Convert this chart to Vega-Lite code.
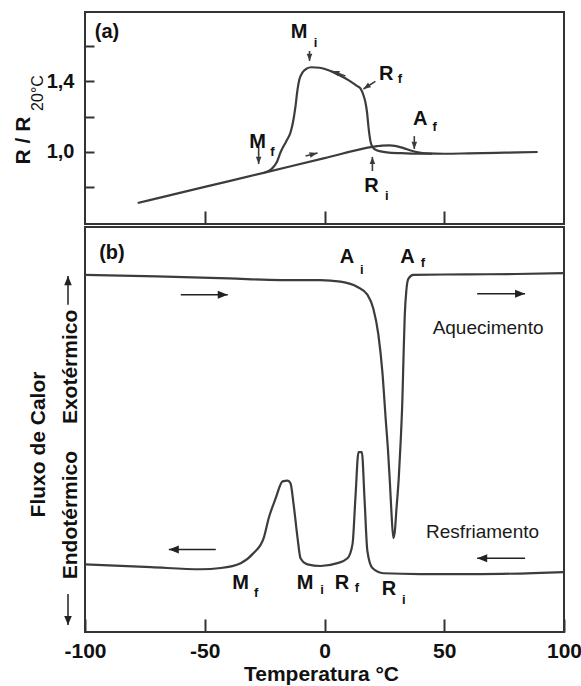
{
  "$schema": "https://vega.github.io/schema/vega-lite/v6.json",
  "padding": {"left": 11, "top": 11, "right": 0, "bottom": 0},
  "spacing": 0,
  "resolve": {"scale": {"x": "independent", "y": "independent", "shape": "independent"}},
  "config": {
    "font": "Liberation Sans",
    "view": {"stroke": "#333333", "strokeWidth": 2},
    "axis": {
      "grid": false,
      "domain": false,
      "tickColor": "#333333",
      "tickWidth": 2,
      "labelFont": "Liberation Sans",
      "labelFontWeight": "bold",
      "labelColor": "#111111",
      "titleFont": "Liberation Sans",
      "titleFontWeight": "bold",
      "titleColor": "#111111"
    }
  },
  "datasets": {
    "resistencia": [
      {"ciclo": "aquecimento", "T": -78, "v": 0.711},
      {"ciclo": "aquecimento", "T": -50, "v": 0.802},
      {"ciclo": "aquecimento", "T": -25, "v": 0.883},
      {"ciclo": "aquecimento", "T": 0, "v": 0.965},
      {"ciclo": "aquecimento", "T": 20, "v": 1.029},
      {"ciclo": "aquecimento", "T": 22, "v": 1.033},
      {"ciclo": "aquecimento", "T": 24, "v": 1.036},
      {"ciclo": "aquecimento", "T": 27, "v": 1.037},
      {"ciclo": "aquecimento", "T": 30, "v": 1.033},
      {"ciclo": "aquecimento", "T": 33, "v": 1.022},
      {"ciclo": "aquecimento", "T": 36, "v": 1.008},
      {"ciclo": "aquecimento", "T": 39, "v": 0.998},
      {"ciclo": "aquecimento", "T": 43, "v": 0.992},
      {"ciclo": "aquecimento", "T": 50, "v": 0.99},
      {"ciclo": "aquecimento", "T": 60, "v": 0.992},
      {"ciclo": "aquecimento", "T": 75, "v": 0.996},
      {"ciclo": "aquecimento", "T": 89, "v": 1.0},
      {"ciclo": "resfriamento", "T": -25, "v": 0.884},
      {"ciclo": "resfriamento", "T": -22, "v": 0.905},
      {"ciclo": "resfriamento", "T": -20, "v": 0.94},
      {"ciclo": "resfriamento", "T": -18.3, "v": 1.0},
      {"ciclo": "resfriamento", "T": -16, "v": 1.06},
      {"ciclo": "resfriamento", "T": -14.2, "v": 1.11},
      {"ciclo": "resfriamento", "T": -13, "v": 1.18},
      {"ciclo": "resfriamento", "T": -12.1, "v": 1.26},
      {"ciclo": "resfriamento", "T": -11.3, "v": 1.35},
      {"ciclo": "resfriamento", "T": -10.5, "v": 1.41},
      {"ciclo": "resfriamento", "T": -9.2, "v": 1.45},
      {"ciclo": "resfriamento", "T": -7.5, "v": 1.472},
      {"ciclo": "resfriamento", "T": -5.5, "v": 1.48},
      {"ciclo": "resfriamento", "T": -2, "v": 1.477},
      {"ciclo": "resfriamento", "T": 2, "v": 1.462},
      {"ciclo": "resfriamento", "T": 5.4, "v": 1.44},
      {"ciclo": "resfriamento", "T": 10.8, "v": 1.4},
      {"ciclo": "resfriamento", "T": 13.5, "v": 1.375},
      {"ciclo": "resfriamento", "T": 15, "v": 1.36},
      {"ciclo": "resfriamento", "T": 16.3, "v": 1.32},
      {"ciclo": "resfriamento", "T": 17.1, "v": 1.28},
      {"ciclo": "resfriamento", "T": 17.8, "v": 1.22},
      {"ciclo": "resfriamento", "T": 18.3, "v": 1.15},
      {"ciclo": "resfriamento", "T": 19.2, "v": 1.06},
      {"ciclo": "resfriamento", "T": 20, "v": 1.029},
      {"ciclo": "resfriamento", "T": 22, "v": 1.008},
      {"ciclo": "resfriamento", "T": 26, "v": 0.998},
      {"ciclo": "resfriamento", "T": 32, "v": 0.993},
      {"ciclo": "resfriamento", "T": 40, "v": 0.99},
      {"ciclo": "resfriamento", "T": 45, "v": 0.99}
    ],
    "setasA": [
      {"T": -27.5, "v": 1.028, "T2": -27.5, "v2": 0.932, "dir": "baixo"},
      {"T": -6.25, "v": 1.572, "T2": -6.25, "v2": 1.516, "dir": "baixo"},
      {"T": 37.5, "v": 1.09, "T2": 37.5, "v2": 1.017, "dir": "baixo"},
      {"T": 20, "v": 0.892, "T2": 20, "v2": 0.972, "dir": "cima"},
      {"T": 21.25, "v": 1.4, "T2": 16.25, "v2": 1.357, "dir": "sudoeste"},
      {"T": 8.75, "v": 1.43, "T2": 2.9, "v2": 1.459, "dir": "oeste"},
      {"T": -7.9, "v": 0.977, "T2": -2.9, "v2": 0.994, "dir": "leste"}
    ],
    "rotulosA": [
      {"t": "(a)", "k": "main", "T": -90.8, "v": 1.68},
      {"t": "M", "k": "main", "T": -10.6, "v": 1.677},
      {"t": "i", "k": "sub", "T": -3.75, "v": 1.618},
      {"t": "R", "k": "main", "T": 25.8, "v": 1.442},
      {"t": "f", "k": "sub", "T": 31.5, "v": 1.411},
      {"t": "A", "k": "main", "T": 40.0, "v": 1.187},
      {"t": "f", "k": "sub", "T": 46.0, "v": 1.144},
      {"t": "R", "k": "main", "T": 19.6, "v": 0.807},
      {"t": "i", "k": "sub", "T": 26.0, "v": 0.748},
      {"t": "M", "k": "main", "T": -27.9, "v": 1.054},
      {"t": "f", "k": "sub", "T": -21.7, "v": 1.0},
      {"t": "20°C", "k": "eixo", "T": -117.5, "v": 1.334}
    ],
    "fluxo": [
      {"ciclo": "aquecimento", "T": -100, "v": 88.2},
      {"ciclo": "aquecimento", "T": -70, "v": 87.8},
      {"ciclo": "aquecimento", "T": -40, "v": 87.3},
      {"ciclo": "aquecimento", "T": -18.3, "v": 86.9},
      {"ciclo": "aquecimento", "T": -1.7, "v": 86.9},
      {"ciclo": "aquecimento", "T": 6.7, "v": 86.5},
      {"ciclo": "aquecimento", "T": 13.75, "v": 85.2},
      {"ciclo": "aquecimento", "T": 17.9, "v": 83.3},
      {"ciclo": "aquecimento", "T": 20.4, "v": 79.8},
      {"ciclo": "aquecimento", "T": 22.5, "v": 73.4},
      {"ciclo": "aquecimento", "T": 24.2, "v": 64},
      {"ciclo": "aquecimento", "T": 25.5, "v": 53},
      {"ciclo": "aquecimento", "T": 26.5, "v": 45},
      {"ciclo": "aquecimento", "T": 27.3, "v": 37},
      {"ciclo": "aquecimento", "T": 28, "v": 29},
      {"ciclo": "aquecimento", "T": 28.75, "v": 23.2},
      {"ciclo": "aquecimento", "T": 29.4, "v": 25},
      {"ciclo": "aquecimento", "T": 30, "v": 30},
      {"ciclo": "aquecimento", "T": 31, "v": 38},
      {"ciclo": "aquecimento", "T": 31.8, "v": 47},
      {"ciclo": "aquecimento", "T": 32.5, "v": 57},
      {"ciclo": "aquecimento", "T": 33, "v": 68},
      {"ciclo": "aquecimento", "T": 33.5, "v": 78},
      {"ciclo": "aquecimento", "T": 34.2, "v": 84.5},
      {"ciclo": "aquecimento", "T": 35, "v": 87.2},
      {"ciclo": "aquecimento", "T": 37, "v": 88.2},
      {"ciclo": "aquecimento", "T": 60, "v": 88.3},
      {"ciclo": "aquecimento", "T": 80, "v": 88.4},
      {"ciclo": "aquecimento", "T": 100, "v": 88.6},
      {"ciclo": "resfriamento", "T": -100, "v": 16.7},
      {"ciclo": "resfriamento", "T": -72.5, "v": 16.0},
      {"ciclo": "resfriamento", "T": -51.7, "v": 15.5},
      {"ciclo": "resfriamento", "T": -43.3, "v": 15.8},
      {"ciclo": "resfriamento", "T": -35, "v": 17.0},
      {"ciclo": "resfriamento", "T": -29.6, "v": 19.5},
      {"ciclo": "resfriamento", "T": -25.4, "v": 23.2},
      {"ciclo": "resfriamento", "T": -23.3, "v": 28.1},
      {"ciclo": "resfriamento", "T": -20.4, "v": 33.0},
      {"ciclo": "resfriamento", "T": -17.5, "v": 37.2},
      {"ciclo": "resfriamento", "T": -15.4, "v": 37.4},
      {"ciclo": "resfriamento", "T": -14.2, "v": 36.7},
      {"ciclo": "resfriamento", "T": -12.9, "v": 31.5},
      {"ciclo": "resfriamento", "T": -11.25, "v": 23.2},
      {"ciclo": "resfriamento", "T": -10, "v": 18.2},
      {"ciclo": "resfriamento", "T": -7.1, "v": 16.7},
      {"ciclo": "resfriamento", "T": -1.7, "v": 16.3},
      {"ciclo": "resfriamento", "T": 5.4, "v": 17.0},
      {"ciclo": "resfriamento", "T": 9.6, "v": 18.2},
      {"ciclo": "resfriamento", "T": 11.7, "v": 21.7},
      {"ciclo": "resfriamento", "T": 12.9, "v": 33.0},
      {"ciclo": "resfriamento", "T": 14.2, "v": 44.4},
      {"ciclo": "resfriamento", "T": 15.6, "v": 44.4},
      {"ciclo": "resfriamento", "T": 16.7, "v": 33.0},
      {"ciclo": "resfriamento", "T": 17.9, "v": 20},
      {"ciclo": "resfriamento", "T": 20, "v": 15.8},
      {"ciclo": "resfriamento", "T": 24.6, "v": 14.5},
      {"ciclo": "resfriamento", "T": 40, "v": 14.3},
      {"ciclo": "resfriamento", "T": 65, "v": 14.3},
      {"ciclo": "resfriamento", "T": 100, "v": 14.8}
    ],
    "setasB": [
      {"T": -60, "v": 83.3, "T2": -40.4, "v2": 83.3, "dir": "dir"},
      {"T": 63.75, "v": 83.5, "T2": 83.75, "v2": 83.5, "dir": "dir"},
      {"T": 83.75, "v": 18.2, "T2": 63.75, "v2": 18.2, "dir": "esq"},
      {"T": -45.4, "v": 20.4, "T2": -65, "v2": 20.4, "dir": "esq"},
      {"T": -107.1, "v": 80.8, "T2": -107.1, "v2": 87.9, "dir": "cimaEixo"},
      {"T": -107.1, "v": 9.4, "T2": -107.1, "v2": 1.7, "dir": "baixoEixo"}
    ],
    "rotulosB": [
      {"t": "(b)", "k": "main", "T": -88.75, "v": 93.6},
      {"t": "A", "k": "main", "T": 9.4, "v": 92.5},
      {"t": "i", "k": "sub", "T": 15.6, "v": 89.5},
      {"t": "A", "k": "main", "T": 34.6, "v": 92.7},
      {"t": "f", "k": "sub", "T": 41.05, "v": 91.0},
      {"t": "M", "k": "main", "T": -35, "v": 12.2},
      {"t": "f", "k": "sub", "T": -28.5, "v": 9.7},
      {"t": "M", "k": "main", "T": -8.1, "v": 12.2},
      {"t": "i", "k": "sub", "T": -1.0, "v": 10.3},
      {"t": "R", "k": "main", "T": 7.3, "v": 12.2},
      {"t": "f", "k": "sub", "T": 13.5, "v": 10.8},
      {"t": "R", "k": "main", "T": 26.9, "v": 10.5},
      {"t": "i", "k": "sub", "T": 33.1, "v": 7.9},
      {"t": "Aquecimento", "k": "nota", "T": 68.3, "v": 75.1},
      {"t": "Resfriamento", "k": "nota", "T": 66.0, "v": 24.6}
    ]
  },
  "vconcat": [
    {
      "width": 479,
      "height": 212,
      "layer": [
        {
          "data": {"name": "resistencia"},
          "mark": {"type": "line", "interpolate": "monotone", "color": "#3c3c3c", "strokeWidth": 2.2},
          "encoding": {
            "x": {
              "field": "T", "type": "quantitative",
              "scale": {"domain": [-100, 100], "nice": false},
              "axis": {"values": [-50, 0, 50], "tickSize": -13, "labels": false, "title": null}
            },
            "y": {
              "field": "v", "type": "quantitative",
              "scale": {"domain": [0.592, 1.793], "nice": false, "zero": false},
              "axis": {
                "values": [0.8, 1.0, 1.2, 1.4, 1.6],
                "tickSize": -9,
                "labelExpr": "abs(datum.value - 1.0) < 0.001 ? '1,0' : (abs(datum.value - 1.4) < 0.001 ? '1,4' : '')",
                "labelFontSize": 20,
                "labelPadding": 20,
                "title": "R / R",
                "titleFontSize": 21,
                "titleBaseline": "alphabetic",
                "titleX": -56,
                "titleY": 128
              }
            },
            "detail": {"field": "ciclo"}
          }
        },
        {
          "data": {"name": "setasA"},
          "mark": {"type": "rule", "color": "#3c3c3c", "strokeWidth": 1.6},
          "encoding": {
            "x": {"field": "T", "type": "quantitative"},
            "y": {"field": "v", "type": "quantitative"},
            "x2": {"field": "T2"},
            "y2": {"field": "v2"}
          }
        },
        {
          "data": {"name": "setasA"},
          "mark": {"type": "point", "filled": true, "opacity": 1, "color": "#3c3c3c", "size": 64, "strokeWidth": 0},
          "encoding": {
            "x": {"field": "T2", "type": "quantitative"},
            "y": {"field": "v2", "type": "quantitative"},
            "shape": {
              "field": "dir", "type": "nominal", "legend": null,
              "scale": {
                "domain": ["baixo", "cima", "sudoeste", "oeste", "leste"],
                "range": [
                  "M0,0L-0.7,-1.8L0.7,-1.8Z",
                  "M0,0L-0.7,1.8L0.7,1.8Z",
                  "M0,0L1.9,-0.45L1.15,-1.6Z",
                  "M0,0L2.12,0.02L1.64,1.34Z",
                  "M0,0L-1.77,1.16L-2.11,-0.2Z"
                ]
              }
            }
          }
        },
        {
          "data": {"name": "rotulosA"},
          "transform": [{"filter": "datum.k == 'main'"}],
          "mark": {"type": "text", "font": "Liberation Sans", "fontWeight": "bold", "fontSize": 20, "color": "#111111", "align": "center", "baseline": "middle"},
          "encoding": {
            "x": {"field": "T", "type": "quantitative"},
            "y": {"field": "v", "type": "quantitative"},
            "text": {"field": "t"}
          }
        },
        {
          "data": {"name": "rotulosA"},
          "transform": [{"filter": "datum.k == 'sub'"}],
          "mark": {"type": "text", "font": "Liberation Sans", "fontWeight": "bold", "fontSize": 13, "color": "#111111", "align": "center", "baseline": "middle"},
          "encoding": {
            "x": {"field": "T", "type": "quantitative"},
            "y": {"field": "v", "type": "quantitative"},
            "text": {"field": "t"}
          }
        },
        {
          "data": {"name": "rotulosA"},
          "transform": [{"filter": "datum.k == 'eixo'"}],
          "mark": {"type": "text", "font": "Liberation Sans", "fontSize": 16, "color": "#111111", "align": "center", "baseline": "alphabetic", "angle": 270, "clip": false},
          "encoding": {
            "x": {"field": "T", "type": "quantitative"},
            "y": {"field": "v", "type": "quantitative"},
            "text": {"field": "t"}
          }
        }
      ]
    },
    {
      "width": 479,
      "height": 405,
      "layer": [
        {
          "data": {"name": "fluxo"},
          "mark": {"type": "line", "interpolate": "monotone", "color": "#3c3c3c", "strokeWidth": 2.2},
          "encoding": {
            "x": {
              "field": "T", "type": "quantitative",
              "scale": {"domain": [-100, 100], "nice": false},
              "axis": {
                "values": [-100, -50, 0, 50, 100],
                "tickSize": -13,
                "labelExpr": "(datum.value < 0 ? '-' : '') + abs(datum.value)",
                "labelFontSize": 21,
                "labelFlush": false,
                "labelBaseline": "alphabetic",
                "labelPadding": 38,
                "title": "Temperatura °C",
                "titleFontSize": 21,
                "titleBaseline": "alphabetic",
                "titleX": 236,
                "titleY": 48
              }
            },
            "y": {
              "field": "v", "type": "quantitative",
              "scale": {"domain": [0, 100], "nice": false},
              "axis": {
                "ticks": false,
                "labels": false,
                "title": ["Fluxo de Calor", "Endotérmico\u2003 Exotérmico\u00a0\u00a0"],
                "titleFontSize": 21,
                "titleLineHeight": 32,
                "titleBaseline": "alphabetic",
                "titleX": -41,
                "titleY": 217
              }
            },
            "detail": {"field": "ciclo"}
          }
        },
        {
          "data": {"name": "setasB"},
          "mark": {"type": "rule", "color": "#222222", "strokeWidth": 1.5},
          "encoding": {
            "x": {"field": "T", "type": "quantitative"},
            "y": {"field": "v", "type": "quantitative"},
            "x2": {"field": "T2"},
            "y2": {"field": "v2"}
          }
        },
        {
          "data": {"name": "setasB"},
          "mark": {"type": "point", "filled": true, "opacity": 1, "color": "#222222", "size": 64, "strokeWidth": 0},
          "encoding": {
            "x": {"field": "T2", "type": "quantitative"},
            "y": {"field": "v2", "type": "quantitative"},
            "shape": {
              "field": "dir", "type": "nominal", "legend": null,
              "scale": {
                "domain": ["dir", "esq", "cimaEixo", "baixoEixo"],
                "range": [
                  "M0,0L-2.5,-1L-2.5,1Z",
                  "M0,0L2.5,-1L2.5,1Z",
                  "M0,0L-0.95,2.3L0.95,2.3Z",
                  "M0,0L-0.95,-2.3L0.95,-2.3Z"
                ]
              }
            }
          }
        },
        {
          "data": {"name": "rotulosB"},
          "transform": [{"filter": "datum.k == 'main'"}],
          "mark": {"type": "text", "font": "Liberation Sans", "fontWeight": "bold", "fontSize": 20, "color": "#111111", "align": "center", "baseline": "middle"},
          "encoding": {
            "x": {"field": "T", "type": "quantitative"},
            "y": {"field": "v", "type": "quantitative"},
            "text": {"field": "t"}
          }
        },
        {
          "data": {"name": "rotulosB"},
          "transform": [{"filter": "datum.k == 'sub'"}],
          "mark": {"type": "text", "font": "Liberation Sans", "fontWeight": "bold", "fontSize": 13, "color": "#111111", "align": "center", "baseline": "middle"},
          "encoding": {
            "x": {"field": "T", "type": "quantitative"},
            "y": {"field": "v", "type": "quantitative"},
            "text": {"field": "t"}
          }
        },
        {
          "data": {"name": "rotulosB"},
          "transform": [{"filter": "datum.k == 'nota'"}],
          "mark": {"type": "text", "font": "Liberation Sans", "fontSize": 19, "color": "#1a1a1a", "align": "center", "baseline": "middle"},
          "encoding": {
            "x": {"field": "T", "type": "quantitative"},
            "y": {"field": "v", "type": "quantitative"},
            "text": {"field": "t"}
          }
        }
      ]
    }
  ]
}
